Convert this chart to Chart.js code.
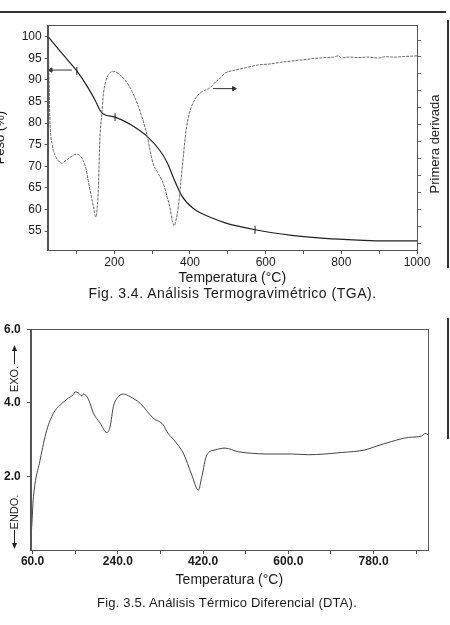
<!DOCTYPE html>
<html lang="es">
<head>
<meta charset="utf-8">
<title>TGA y DTA</title>
<script src="https://cdn.jsdelivr.net/npm/chart.js@4.4.1/dist/chart.umd.min.js"></script>
<style>
  html, body { margin: 0; padding: 0; background: #fff; }
  body { width: 450px; height: 625px; position: relative; overflow: hidden; font-family: "Liberation Sans", Arial, sans-serif; color: #222; }
  .caixa { position: absolute; }
  .legenda { position: absolute; text-align: center; color: #1a1a1a; line-height: 16px; white-space: nowrap; }
  .risco { position: absolute; background: #333; }
</style>
</head>
<body>
<!-- marcas da folha escaneada -->
<div class="risco" style="left:0; top:11px; width:446px; height:2px;"></div>
<div class="risco" style="left:447px; top:20px; width:2px; height:248px;"></div>
<div class="risco" style="left:447px; top:318px; width:2px; height:121px;"></div>

<div class="caixa" style="left:-7px; top:15px;"><canvas id="graficoTGA" width="457" height="275"></canvas></div>
<div class="legenda" style="left:0; width:465px; top:285px; font-size:14px; letter-spacing:0.5px;">Fig. 3.4. Análisis Termogravimétrico (TGA).</div>

<div class="caixa" style="left:0; top:315px;"><canvas id="graficoDTA" width="450" height="280"></canvas></div>
<div class="legenda" style="left:0; width:454px; top:595px; font-size:13px; letter-spacing:0.2px;">Fig. 3.5. Análisis Térmico Diferencial (DTA).</div>

<script>
// ===== DADOS DO TGA (peso) =====
const temperaturaPeso = [24, 50, 75, 101, 130, 150, 162, 170, 202, 230, 250, 286, 321, 340, 356, 378, 409, 462, 493, 572, 669, 757, 845, 915, 1000];
const peso = [100.2, 97.4, 94.8, 92.1, 88.3, 85.2, 83.0, 82.2, 81.4, 80.3, 79.3, 77.0, 73.6, 70.8, 67.4, 63.2, 60.2, 57.9, 56.9, 55.3, 54.0, 53.3, 52.9, 52.7, 52.7];

// primeira derivada (mesma escala visual do peso)
const temperaturaDerivada = [24, 26, 30, 36, 45, 55, 61, 70, 85, 100, 110, 118, 125, 131, 138, 145, 151, 155, 158, 162, 167, 171, 177, 184, 198, 215, 230, 242, 255, 268, 286, 295, 303, 315, 330, 340, 347, 353, 358, 363, 369, 376, 383, 390, 400, 413, 427, 440, 453, 467, 480, 493, 520, 550, 581, 610, 640, 669, 700, 730, 757, 780, 792, 800, 820, 845, 870, 900, 915, 940, 960, 980, 1000];
const derivada = [100, 95.8, 80.5, 75, 72.3, 71, 70.7, 71.2, 72.2, 72.8, 72.4, 71.3, 69.5, 66.7, 63.5, 60.6, 58.2, 60.5, 65.1, 76.6, 82, 86.6, 89.5, 91.2, 92, 91.2, 89.8, 88.2, 85.8, 82.8, 77.4, 73.5, 70.5, 68.5, 65.9, 62.8, 60.5, 57.5, 56.2, 57.5, 60.5, 66.5, 72.8, 78.5, 82.8, 85.5, 87, 87.6, 88.2, 89.5, 90.5, 91.6, 92.3, 92.9, 93.5, 93.7, 94.1, 94.4, 94.7, 95.0, 95.2, 95.3, 95.6, 95.1, 95.3, 95.2, 95.3, 95.1, 95.4, 95.3, 95.4, 95.5, 95.6];

// marquinhas sobre a curva de peso e setas indicando o eixo
const marcasT = [101, 202, 572];
const marcasPeso = [92.1, 81.4, 55.3];
const setaEsquerdaT = [88, 32];
const setaEsquerdaV = [92.3, 92.3];
const setaDireitaT = [461, 516];
const setaDireitaV = [88, 88];

const ticksPesoY = [55, 60, 65, 70, 75, 80, 85, 90, 95, 100];
const ticksTGAx = [100, 200, 300, 400, 500, 600, 700, 800, 900, 1000];

// ===== DADOS DO DTA =====
const temperaturaDTA = [56, 56.5, 61.8, 75.9, 90, 104, 118.1, 132.3, 146.2, 149.8, 156.8, 163.9, 167.3, 177.9, 188.4, 202.6, 216.7, 223.6, 230.6, 241.2, 251.8, 265.9, 287, 315.1, 336.2, 343.4, 360.9, 378.4, 396.1, 410.1, 417.3, 427.8, 445.3, 466.4, 494.5, 522.8, 550.9, 607.2, 642.3, 677.5, 712.8, 762, 783.1, 818.3, 853.4, 881.7, 888.7, 895];
const sinalDTA = [2.99, 0.45, 1.45, 2.45, 3.26, 3.72, 3.94, 4.10, 4.23, 4.30, 4.27, 4.19, 4.24, 4.10, 3.72, 3.45, 3.19, 3.35, 3.90, 4.17, 4.24, 4.17, 3.99, 3.58, 3.40, 3.22, 2.95, 2.63, 2.04, 1.63, 1.99, 2.58, 2.72, 2.77, 2.67, 2.63, 2.61, 2.61, 2.59, 2.61, 2.65, 2.72, 2.81, 2.95, 3.06, 3.10, 3.17, 3.13];
const ticksDTAx = [60, 150, 240, 330, 420, 510, 600, 690, 780, 870];
const ticksDTAy = [2, 4, 6];

Chart.defaults.font.family = '"Liberation Sans", Arial, sans-serif';
Chart.defaults.color = '#1a1a1a';

// junta dois arrays em pontos {x, y}
function juntar(xs, ys) {
    return xs.map((x, i) => ({ x: x, y: ys[i] }));
}

// moldura em volta da área do gráfico
const marco = {
    id: 'marco',
    afterDraw(chart) {
        const a = chart.chartArea;
        const ctx = chart.ctx;
        ctx.save();
        ctx.strokeStyle = '#555';
        ctx.lineWidth = 1;
        ctx.strokeRect(Math.round(a.left) + 0.5, Math.round(a.top) + 0.5, Math.round(a.right - a.left), Math.round(a.bottom - a.top));
        ctx.restore();
    }
};

// textos verticais (lidos de baixo pra cima) e setas
const textoVertical = {
    id: 'textoVertical',
    afterDraw(chart, args, opts) {
        const ctx = chart.ctx;
        (opts.itens || []).forEach(item => {
            ctx.save();
            ctx.translate(item.x, item.y);
            ctx.rotate(-Math.PI / 2);
            ctx.font = item.fonte;
            ctx.fillStyle = '#1a1a1a';
            ctx.textAlign = 'center';
            ctx.textBaseline = 'middle';
            ctx.fillText(item.texto, 0, 0);
            ctx.restore();
        });
        (opts.setas || []).forEach(s => {
            const dir = s.ponta < s.inicio ? -1 : 1;
            ctx.save();
            ctx.strokeStyle = '#222';
            ctx.fillStyle = '#222';
            ctx.lineWidth = 1;
            ctx.beginPath();
            ctx.moveTo(s.x + 0.5, s.inicio);
            ctx.lineTo(s.x + 0.5, s.ponta - dir * 4);
            ctx.stroke();
            ctx.beginPath();
            ctx.moveTo(s.x + 0.5, s.ponta);
            ctx.lineTo(s.x - 2, s.ponta - dir * 6);
            ctx.lineTo(s.x + 3, s.ponta - dir * 6);
            ctx.closePath();
            ctx.fill();
            ctx.restore();
        });
    }
};

// ===== GRÁFICO TGA =====
const configTGA = {
    type: 'line',
    data: {
        datasets: [{
            label: 'Primera derivada',
            data: juntar(temperaturaDerivada, derivada),
            yAxisID: 'y2',
            borderColor: '#6a6a6a',
            borderWidth: 1,
            borderDash: [3, 1],
            pointRadius: 0,
            cubicInterpolationMode: 'monotone'
        }, {
            label: 'Peso (%)',
            data: juntar(temperaturaPeso, peso),
            borderColor: '#222',
            borderWidth: 1.2,
            pointRadius: 0,
            cubicInterpolationMode: 'monotone'
        }, {
            label: 'marcas',
            data: juntar(marcasT, marcasPeso),
            showLine: false,
            pointStyle: 'line',
            pointRotation: 90,
            pointRadius: 4,
            borderColor: '#222',
            borderWidth: 1
        }, {
            label: 'seta peso',
            data: juntar(setaEsquerdaT, setaEsquerdaV),
            borderColor: '#333',
            backgroundColor: '#333',
            borderWidth: 1,
            pointStyle: 'triangle',
            pointRadius: [0, 2.5],
            pointRotation: [0, -90]
        }, {
            label: 'seta derivada',
            data: juntar(setaDireitaT, setaDireitaV),
            yAxisID: 'y2',
            borderColor: '#333',
            backgroundColor: '#333',
            borderWidth: 1,
            pointStyle: 'triangle',
            pointRadius: [0, 2.5],
            pointRotation: [0, 90]
        }]
    },
    options: {
        responsive: false,
        animation: false,
        devicePixelRatio: 1,
        layout: { padding: { top: 8, left: 0, right: 0, bottom: 0 } },
        plugins: {
            legend: { display: false },
            tooltip: { enabled: false },
            textoVertical: {
                itens: [{ texto: 'Primera derivada', x: 442, y: 129, fonte: '13px "Liberation Sans", Arial, sans-serif' }]
            }
        },
        scales: {
            x: {
                type: 'linear',
                min: 24,
                max: 1000,
                afterFit(scale) { scale.height = 40; },
                afterBuildTicks(scale) { scale.ticks = ticksTGAx.map(v => ({ value: v })); },
                ticks: {
                    autoSkip: false,
                    maxRotation: 0,
                    padding: 1,
                    font: { size: 12 },
                    callback: (v) => (v % 200 === 0 ? String(v) : '')
                },
                grid: { drawOnChartArea: false, tickLength: 4, color: '#555' },
                border: { color: '#555' },
                title: { display: true, text: 'Temperatura (°C)', font: { size: 14 }, padding: { top: 0, bottom: 3 } }
            },
            y: {
                min: 50.6,
                max: 102.7,
                afterFit(scale) { scale.width = 54.7; },
                afterBuildTicks(scale) { scale.ticks = ticksPesoY.map(v => ({ value: v })); },
                ticks: { padding: 3, font: { size: 12 } },
                grid: { drawOnChartArea: false, tickLength: 3, color: '#555' },
                border: { color: '#555' },
                title: { display: true, text: 'Peso (%)', font: { size: 13 }, padding: { top: 0, bottom: 0 } }
            },
            y2: {
                position: 'right',
                min: 50.6,
                max: 102.7,
                afterFit(scale) { scale.width = 33; },
                afterBuildTicks(scale) {
                    // 13 marquinhas sem número no eixo direito
                    const t = [];
                    for (let k = 0; k < 13; k++) t.push({ value: 52.1 + k * 3.93 });
                    scale.ticks = t;
                },
                ticks: { callback: () => '' },
                grid: { drawOnChartArea: false, tickLength: 4, color: '#666' },
                border: { color: '#555' }
            }
        }
    },
    plugins: [marco, textoVertical]
};

new Chart(document.getElementById('graficoTGA'), configTGA);

// ===== GRÁFICO DTA =====
const configDTA = {
    type: 'line',
    data: {
        datasets: [{
            label: 'DTA',
            data: juntar(temperaturaDTA, sinalDTA),
            borderColor: '#444',
            borderWidth: 1,
            pointRadius: 0,
            cubicInterpolationMode: 'monotone'
        }]
    },
    options: {
        responsive: false,
        animation: false,
        devicePixelRatio: 1,
        layout: { padding: { top: 14.3, left: 0, right: 22, bottom: 0 } },
        plugins: {
            legend: { display: false },
            tooltip: { enabled: false },
            textoVertical: {
                itens: [
                    { texto: 'EXO.', x: 15, y: 64, fonte: '11px "Liberation Sans", Arial, sans-serif' },
                    { texto: 'ENDO.', x: 15, y: 197, fonte: '11px "Liberation Sans", Arial, sans-serif' }
                ],
                setas: [
                    { x: 14, inicio: 49, ponta: 30 },
                    { x: 14, inicio: 215, ponta: 234 }
                ]
            }
        },
        scales: {
            x: {
                type: 'linear',
                min: 56,
                max: 895,
                afterFit(scale) { scale.height = 45; },
                afterBuildTicks(scale) { scale.ticks = ticksDTAx.map(v => ({ value: v })); },
                ticks: {
                    autoSkip: false,
                    maxRotation: 0,
                    padding: 0,
                    font: { size: 12, weight: 'bold' },
                    callback: (v) => ((v - 60) % 180 === 0 ? v.toFixed(1) : '')
                },
                grid: { drawOnChartArea: false, tickLength: 4, color: '#555' },
                border: { color: '#555' },
                title: { display: true, text: 'Temperatura (°C)', font: { size: 14 }, padding: { top: 0, bottom: 6 } }
            },
            y: {
                min: 0,
                max: 6,
                afterFit(scale) { scale.width = 30.7; },
                afterBuildTicks(scale) { scale.ticks = ticksDTAy.map(v => ({ value: v })); },
                ticks: { padding: 6, font: { size: 12, weight: 'bold' }, callback: (v) => v.toFixed(1) },
                grid: { drawOnChartArea: false, tickLength: 4, color: '#555' },
                border: { color: '#555' }
            }
        }
    },
    plugins: [marco, textoVertical]
};

new Chart(document.getElementById('graficoDTA'), configDTA);
</script>
</body>
</html>
